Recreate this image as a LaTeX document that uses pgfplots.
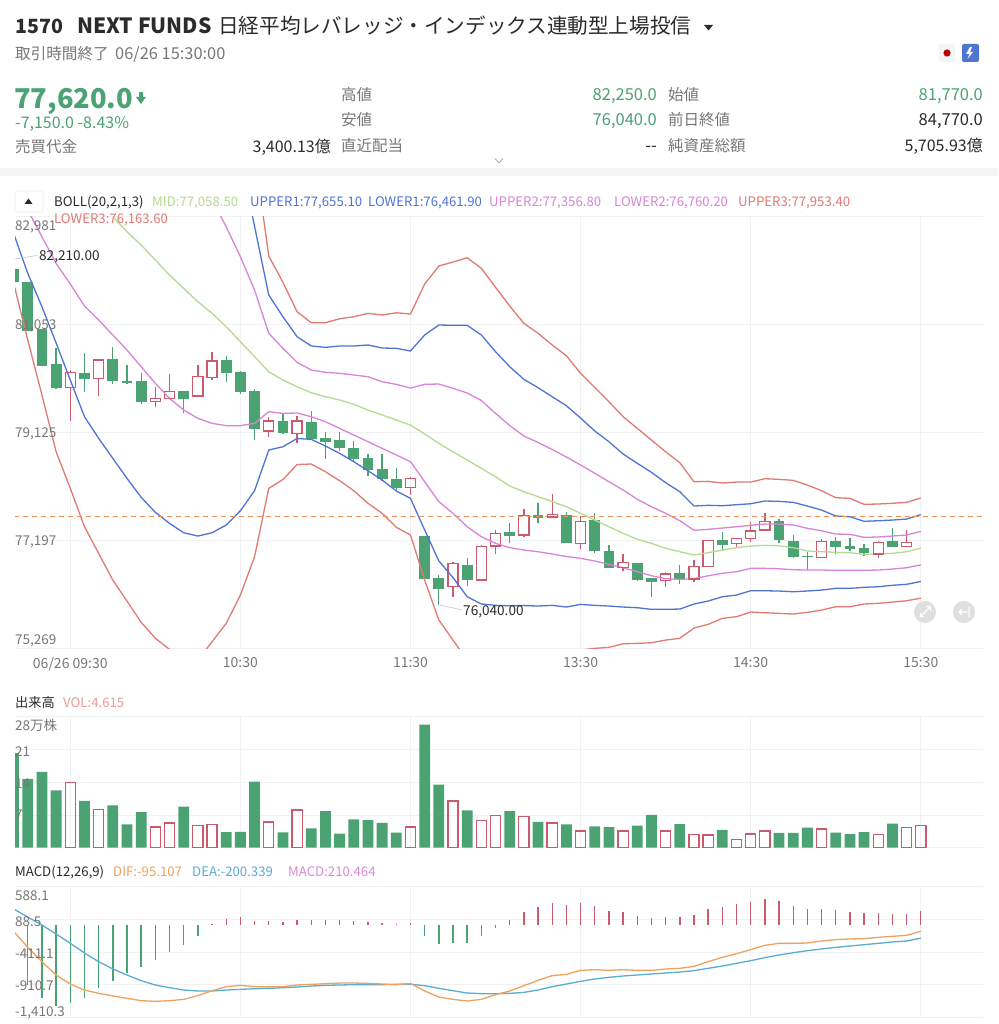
\documentclass[border=0pt]{standalone}
\usepackage{fontspec}
\setmainfont{Noto Sans CJK JP}
\usepackage{pgfplots}
\usepackage{pgfplotstable}
\pgfplotsset{compat=1.18}
\definecolor{cg}{HTML}{4BA373}
\definecolor{cr}{HTML}{CB5A6C}
\definecolor{gridc}{HTML}{F1F1F3}
\definecolor{lab}{HTML}{777777}
\definecolor{dark}{HTML}{2B2B2B}
\definecolor{mid}{HTML}{B4DB8E}
\definecolor{bl}{HTML}{4F74D3}
\definecolor{pu}{HTML}{D884D8}
\definecolor{re}{HTML}{E07A72}
\definecolor{up}{HTML}{4BA373}
\definecolor{dif}{HTML}{EDA35F}
\definecolor{dea}{HTML}{58ADD3}
\definecolor{macdc}{HTML}{D98BD9}
\pgfplotstableread{
i h o c l
0 82040 82040 81810 81810
1 81810 81810 80940 80940
2 80970 80970 80320 80320
3 80628 80347 79924 79901
5 80549 80186 80074 79842
7 80656 80431 80043 79985
8 80329 80049 80002 79995
9 80181 80043 79668 79633
12 79865 79859 79716 79466
15 80495 80413 80192 80031
16 80217 80210 79847 79806
17 79895 79859 79186 78989
19 79466 79329 79109 79097
21 79513 79311 79013 78989
22 79138 79031 78954 78645
23 79138 78989 78841 78798
24 78977 78841 78645 78591
25 78739 78668 78453 78352
26 78734 78466 78287 78262
27 78484 78287 78127 78084
29 77274 77274 76506 76506
30 76578 76524 76333 76040
32 76876 76756 76488 76381
35 77501 77351 77280 77144
37 77859 77650 77601 77501
39 77698 77650 77144 77144
41 77680 77560 77012 76976
42 77114 77006 76708 76697
44 76787 76787 76488 76476
45 76524 76519 76453 76179
47 76756 76619 76501 76411
50 77340 77208 77108 77012
54 77573 77548 77203 77144
55 77287 77180 76894 76887
56 76994 76912 76894 76667
58 77251 77190 77078 76947
59 77233 77101 77042 77001
60 77131 77065 76965 76912
62 77412 77185 77083 77078
}\greencandles
\pgfplotstableread{
i h c o l
4 80240 80192 79924 79334
6 80419 80419 80092 79781
10 79942 79734 79674 79584
11 80169 79852 79734 79727
13 80324 80120 79775 79763
14 80567 80401 80102 80056
18 79406 79329 79150 79048
20 79418 79329 79102 78930
28 78334 78298 78137 78007
31 76804 76787 76369 76190
33 77114 77083 76488 76470
34 77382 77323 77096 76953
36 77751 77637 77292 77251
38 78019 77662 77614 77614
40 77632 77530 77144 77042
43 76947 76797 76708 76655
46 76626 76596 76476 76358
48 76846 76726 76506 76453
49 77203 77190 76733 76726
51 77239 77226 77144 77055
52 77519 77364 77226 77173
53 77691 77530 77382 77369
57 77215 77173 76894 76894
61 77190 77162 76953 76876
63 77382 77162 77083 77083
}\redcandles
\pgfplotstableread{
i u3 u1 u2 m l2 l1 l3
0 nan nan nan nan 83545 82682 81794
1 nan nan nan nan 83098 81967 80776
2 nan nan nan nan 82621 81371 79793
3 nan nan nan nan 82146 80722 78780
4 nan nan nan nan 81776 80061 78126
5 nan nan nan nan 81383 79406 77441
6 nan nan nan nan 81133 79020 76965
7 nan nan nan 82979 80865 78662 76488
8 nan nan nan 82711 80597 78305 76113
9 nan nan nan 82473 80299 77966 75733
10 nan nan nan 82205 80002 77698 75447
11 nan nan nan 81937 79734 77501 75250
12 nan nan nan 81700 79525 77333 75113
13 nan nan nan 81460 79377 77274 75059
14 nan nan 83277 81253 79288 77333 75386
15 nan nan 82800 81014 79245 77471 75715
16 nan 84045 82264 80746 79245 77726 76220
17 84117 82807 81669 80478 79288 78084 76905
18 82277 81580 80896 80210 79495 78811 78126
19 81807 81192 80628 80061 79466 78870 78284
20 81281 80835 80378 79942 79472 79016 78552
21 81085 80669 80240 79834 79406 79002 78561
22 81085 80645 80199 79763 79316 78882 78423
23 81156 80669 80181 79704 79198 78752 78262
24 81192 80669 80151 79627 79079 78602 78084
25 81253 80687 80120 79525 78959 78441 77859
26 81223 80633 80031 79436 78841 78275 77680
27 81263 80628 79984 79347 78722 78078 77430
28 81240 80580 79918 79257 78602 77948 77292
29 81776 80865 79984 79097 78244 77382 76488
30 82098 81044 79990 78930 77888 76828 75774
31 82169 81039 79913 78780 77680 76533 75416
32 82246 81039 79829 78632 77441 76190 75059
33 82057 80865 79695 78484 77262 76060 74916
34 81717 80567 79466 78334 77144 76036 74791
35 81383 80299 79248 78168 77066 76029 74738
36 81074 80074 79061 78066 77024 76032 74738
37 80896 79924 78945 77977 76994 76024 74791
38 80687 79763 78820 77888 76953 76036 74916
39 80495 79602 78686 77798 76908 76006 75059
40 80181 79382 78543 77680 76876 76054 75238
41 79927 79150 78395 77560 76828 76036 75268
42 79674 78959 78244 77441 76769 76024 75286
43 79406 78739 78096 77323 76708 76006 75350
44 79198 78573 77930 77216 76637 75994 75357
45 78989 78412 77798 77144 76565 75965 75368
46 78780 78227 77680 77055 76512 75965 75416
47 78584 78066 77548 76994 76501 75970 75447
48 78244 77810 77376 76935 76512 76060 75631
49 78251 77823 77394 76976 76565 76113 75697
50 78221 77816 77417 77024 76608 76190 75804
51 78239 77834 77441 77066 76637 76220 75833
52 78239 77851 77466 77096 76697 76297 75917
53 78298 77900 77489 77108 76697 76297 75904
54 78287 77894 77489 77101 76690 76292 75893
55 78269 77876 77471 77066 76672 76279 75881
56 78185 77810 77412 77007 76667 76292 75911
57 78084 77739 77369 76994 76667 76309 75952
58 77959 77632 77310 76983 76662 76340 76011
59 77948 77619 77305 76976 76662 76340 76011
60 77841 77537 77251 76947 76662 76358 76060
61 77846 77548 77257 76953 76667 76369 76072
62 77859 77560 77275 76965 76685 76394 76095
63 77877 77578 77292 76994 76708 76412 76118
64 77953 77655 77357 77058 76760 76462 76164
}\boll
\pgfplotstableread{
i v
0 20.2
1 14.7
2 16.2
3 12.25
5 10
7 9.05
8 5.0
9 7.6
12 8.8
15 3.35
16 3.4
17 14.1
19 3.3
21 4.15
22 7.8
23 3.0
24 6.05
25 5.9
26 5.3
27 3.2
29 26.3
30 13.5
32 8
35 7.8
37 5.5
39 5.0
41 4.55
42 4.4
44 4.7
45 7.0
47 5.05
50 3.8
54 3.15
55 3.15
56 4.3
58 3.2
59 2.9
60 3.35
62 5.15
}\greenvol
\pgfplotstableread{
i v
4 14.0
6 8.1
10 4.4
11 5.3
13 4.7
14 5.0
18 5.5
20 8.05
28 4.4
31 10
33 5.8
34 6.85
36 6.7
38 5.3
40 3.6
43 3.6
46 3.6
48 2.85
49 2.7
51 1.7
52 2.9
53 3.6
57 4.0
61 2.85
63 4.3
64 4.7
}\redvol
\pgfplotstableread{
i v
1 -916
2 -1110
3 -1232
4 -1187
5 -1110
6 -962
7 -850
8 -738
9 -646
10 -534
11 -406
12 -309
13 -161
29 -167
30 -289
31 -279
32 -279
33 -167
34 -39
}\greenmacd
\pgfplotstableread{
i v
14 17
15 94
16 124
17 68
18 63
19 48
20 78
21 78
22 78
23 78
24 68
25 48
26 32
27 17
28 38
35 73
36 196
37 277
38 333
39 308
40 343
41 298
42 221
43 196
44 139
45 109
46 119
47 119
48 155
49 241
50 282
51 323
52 359
53 394
54 364
55 292
56 247
57 247
58 226
59 206
60 180
61 180
62 165
63 165
64 210
}\redmacd
\pgfplotstableread{
i dif dea
0 -95 247
1 -340 124
2 -559 2
3 -763 -136
4 -901 -278
5 -993 -427
6 -1044 -559
7 -1084 -671
8 -1120 -763
9 -1156 -850
10 -1166 -916
11 -1156 -957
12 -1136 -993
13 -1079 -1008
14 -1003 -1008
15 -942 -993
16 -921 -983
17 -942 -973
18 -942 -967
19 -942 -957
20 -916 -947
21 -906 -932
22 -896 -921
23 -886 -916
24 -886 -911
25 -891 -911
26 -901 -911
27 -911 -906
28 -891 -906
29 -1008 -926
30 -1100 -967
31 -1136 -1003
32 -1161 -1039
33 -1136 -1049
34 -1064 -1049
35 -1008 -1044
36 -926 -1029
37 -845 -993
38 -773 -942
39 -753 -901
40 -692 -860
41 -682 -824
42 -692 -799
43 -682 -778
44 -692 -763
45 -692 -748
46 -671 -733
47 -661 -717
48 -631 -697
49 -559 -661
50 -493 -626
51 -437 -585
52 -375 -544
53 -309 -498
54 -279 -457
55 -279 -422
56 -273 -391
57 -243 -365
58 -222 -340
59 -212 -320
60 -207 -299
61 -187 -279
62 -171 -258
63 -156 -243
64 -95 -200
}\macdt
\pgfplotstableread{
i v
0 77620
68.39 77620
}\lastline
\pgfplotsset{
 panel/.style={
  scale only axis, width=968pt, xmin=0.0988, xmax=68.39, scaled y ticks=false,
  axis line style={draw=none}, tick style={draw=none}, major tick length=0pt,
  xtick={4,16,28,40,52,64}, xmajorgrids, ymajorgrids,
  grid style={gridc,line width=0.8pt},
  yticklabels={},
  xticklabel style={inner sep=0pt,text=lab,font=\fontsize{14}{15}\selectfont},
}}
\newcommand\TL[5]{\node[anchor=base west,inner sep=0pt,text=#4,font=\fontsize{#3}{#3}\selectfont] at (#1,#2) {#5};}
\newcommand\TR[5]{\node[anchor=base east,inner sep=0pt,text=#4,font=\fontsize{#3}{#3}\selectfont] at (#1,#2) {#5};}
\begin{document}
\begin{tikzpicture}
\path[use as bounding box] (0pt,0pt) rectangle (998pt,1024pt);
\fill[white] (0pt,0pt) rectangle (998pt,1024pt);
\begin{axis}[panel, name=main, at={(15pt,375.7pt)}, anchor=south west, height=431.7pt,
  ymin=75269, ymax=82981, ytick={75269,77197,79125,81053,82981},
  xticklabels={06/26 09:30,10:30,11:30,13:30,14:30,15:30},
  xticklabel style={yshift=-8.5pt},
]
% candles: green
\addplot[draw=none,mark=none,forget plot,error bars/.cd,y dir=plus,y explicit,error mark=none,error bar style={draw=cg,line width=1.3pt}]
  table[x=i,y=l,y error plus expr=\thisrow{h}-\thisrow{l}] {\greencandles};
\addplot[draw=none,mark=none,forget plot,error bars/.cd,y dir=plus,y explicit,error mark=none,error bar style={draw=cg,line width=10.8pt}]
  table[x=i,y=c,y error plus expr=\thisrow{o}-\thisrow{c}] {\greencandles};
% candles: red hollow, wicks
\addplot[draw=none,mark=none,forget plot,error bars/.cd,y dir=plus,y explicit,error mark=none,error bar style={draw=cr,line width=1.3pt}]
  table[x=i,y=c,y error plus expr=\thisrow{h}-\thisrow{c}] {\redcandles};
\addplot[draw=none,mark=none,forget plot,error bars/.cd,y dir=plus,y explicit,error mark=none,error bar style={draw=cr,line width=1.3pt}]
  table[x=i,y=l,y error plus expr=\thisrow{o}-\thisrow{l}] {\redcandles};
% red bodies: sides and caps
\addplot[draw=none,mark=none,forget plot,error bars/.cd,y dir=plus,y explicit,error mark=none,error bar style={draw=cr,line width=1.3pt}]
  table[x expr=\thisrow{i}-0.356,y=o,y error plus expr=\thisrow{c}-\thisrow{o}] {\redcandles};
\addplot[draw=none,mark=none,forget plot,error bars/.cd,y dir=plus,y explicit,error mark=none,error bar style={draw=cr,line width=1.3pt}]
  table[x expr=\thisrow{i}+0.356,y=o,y error plus expr=\thisrow{c}-\thisrow{o}] {\redcandles};
\addplot[only marks,mark=-,mark size=5.7pt,mark options={draw=cr,line width=1.3pt},forget plot] table[x=i,y=o] {\redcandles};
\addplot[only marks,mark=-,mark size=5.7pt,mark options={draw=cr,line width=1.3pt},forget plot] table[x=i,y=c] {\redcandles};
% Bollinger
\addplot[re,line width=1.3pt,mark=none] table[x=i,y=u3] {\boll};
\addplot[bl,line width=1.3pt,mark=none] table[x=i,y=u1] {\boll};
\addplot[pu,line width=1.3pt,mark=none] table[x=i,y=u2] {\boll};
\addplot[mid,line width=1.3pt,mark=none] table[x=i,y=m] {\boll};
\addplot[pu,line width=1.3pt,mark=none] table[x=i,y=l2] {\boll};
\addplot[bl,line width=1.3pt,mark=none] table[x=i,y=l1] {\boll};
\addplot[re,line width=1.3pt,mark=none] table[x=i,y=l3] {\boll};
\addplot[draw=dif!90!red,line width=1.3pt,dash pattern=on 5pt off 4pt,mark=none] table[x=i,y=v] {\lastline};
\end{axis}
\begin{axis}[panel, at={(15pt,176.3pt)}, anchor=south west, height=131pt,
  ymin=0, ymax=28, ytick={0,7,14,21,28},
  xticklabels={},
]
\addplot[ybar,bar width=10.8pt,bar shift=0pt,fill=cg,draw=none] table[x=i,y=v] {\greenvol};
\addplot[ybar,bar width=10.2pt,bar shift=0pt,fill=none,draw=cr,line width=1.3pt] table[x=i,y=v] {\redvol};
\end{axis}
\begin{axis}[panel, at={(15pt,6.7pt)}, anchor=south west, height=130.6pt,
  ymin=-1410.3, ymax=588.1, ytick={-1410.3,-910.7,-411.1,88.5,588.1},
  xticklabels={},
]
\addplot[ycomb,cg,line width=1.4pt,mark=none] table[x=i,y=v] {\greenmacd};
\addplot[ycomb,cr,line width=1.4pt,mark=none] table[x=i,y=v] {\redmacd};
\addplot[dea,line width=1.3pt,mark=none] table[x=i,y=dea] {\macdt};
\addplot[dif,line width=1.3pt,mark=none] table[x=i,y=dif] {\macdt};
\end{axis}
\begin{scope}[x=1pt,y=-1pt,yshift=1024pt]
\TL{15}{34}{19.6}{dark}{\textbf{1570}}
\TL{77}{34}{21}{dark}{\textbf{NEXT FUNDS}}
\TL{218}{34}{20.6}{dark}{日経平均レバレッジ・インデックス連動型上場投信}
\fill[dark] (704,25) -- (713,25) -- (708.5,30.5) -- cycle;
\TL{15}{60}{15.6}{lab}{取引時間終了}
\TL{115}{60}{16.4}{lab}{06/26 15:30:00}
\fill[gray!8,rounded corners=2pt] (939,44) rectangle (955,62);
\fill[red!75!black] (947,53) circle (3.6);
\fill[bl,rounded corners=2pt] (962,44) rectangle (979,62);
\fill[white] (970,47) -- (966,54) -- (969.5,54) -- (967.5,59) -- (973,52) -- (970,52) -- (972,47) -- cycle;
\TL{14}{108.5}{27.3}{up}{\textbf{77,620.0}}
\fill[up] (139,92) rectangle (143,98); \fill[up] (136,97) -- (146,97) -- (141,104) -- cycle;
\TL{15}{129}{16}{up}{-7,150.0 -8.43\%}
\TL{15}{152.5}{15.5}{lab}{売買代金}
\TR{331}{152.5}{16}{dark}{3,400.13億}
\TL{341}{101}{15.5}{lab}{高値}
\TR{657}{101}{16.5}{up}{82,250.0}
\TL{341}{126}{15.5}{lab}{安値}
\TR{657}{126}{16.5}{up}{76,040.0}
\TL{341}{152}{15.5}{lab}{直近配当}
\TR{657}{152}{16.5}{dark}{{-}{-}}
\TL{668}{101}{15.5}{lab}{始値}
\TR{983}{101}{16.5}{up}{81,770.0}
\TL{668}{126}{15.5}{lab}{前日終値}
\TR{983}{126}{16.5}{dark}{84,770.0}
\TL{668}{152}{15.5}{lab}{純資産総額}
\TR{983}{152}{16}{dark}{5,705.93億}
\draw[lab!70,line width=0.7pt] (495,158.5) -- (499,163) -- (503,158.5);
\fill[gray!8] (0,168) rectangle (998,176);
% legend row
\draw[gray!12,line width=0.7pt,rounded corners=1.5pt] (15,191) rectangle (43,212);
\fill[dark] (24.5,204) -- (32.5,204) -- (28.5,198.5) -- cycle;
\TL{54}{207}{13.2}{dark}{BOLL(20,2,1,3)}
\TL{152}{207}{13.2}{mid}{MID:77,058.50}
\TL{250}{207}{13.2}{bl}{UPPER1:77,655.10}
\TL{368}{207}{13.2}{bl}{LOWER1:76,461.90}
\TL{489}{207}{13.2}{pu}{UPPER2:77,356.80}
\TL{614}{207}{13.2}{pu}{LOWER2:76,760.20}
\TL{738}{207}{13.2}{re}{UPPER3:77,953.40}
\TL{54}{224}{13.2}{re}{LOWER3:76,163.60}
% y labels
\TL{15}{230.6}{13.5}{lab}{82,981}
\TL{15}{329.5}{13.5}{lab}{81,053}
\TL{15}{437.4}{13.5}{lab}{79,125}
\TL{15}{545.3}{13.5}{lab}{77,197}
\TL{15}{644.3}{13.5}{lab}{75,269}
\TL{15}{730.7}{13.5}{lab}{28万株}
\TL{15}{756.4}{13.5}{lab}{21}
\TL{15}{789}{13.5}{lab}{14}
\TL{15}{820}{13.5}{lab}{7}
\TL{15}{900.7}{13.5}{lab}{588.1}
\TL{15}{926.4}{13.5}{lab}{88.5}
\TL{15}{959}{13.5}{lab}{-411.1}
\TL{15}{991}{13.5}{lab}{-910.7}
\TL{15}{1016.3}{13.5}{lab}{-1,410.3}
% annotations
\draw[gray!45,line width=0.6pt] (15,259) -- (37,255.5);
\TL{39}{261}{13.6}{dark}{82,210.00}
\draw[gray!45,line width=0.6pt] (440,605) -- (462,610);
\TL{463}{615.5}{13.6}{dark}{76,040.00}
% corner buttons
\fill[gray!25] (925,612) circle (11);
\draw[white,line width=1.2pt] (920,617) -- (930,607);
\draw[white,line width=1pt] (926,607) -- (930,607) -- (930,611) (920,613) -- (920,617) -- (924,617);
\fill[gray!25] (964,612) circle (11);
\draw[white,line width=1.2pt] (959,612) -- (967,612) (962,609) -- (959,612) -- (962,615) (969,607) -- (969,617);
% panel captions
\TL{15}{708}{13.2}{dark}{出来高}
\TL{63}{708}{13.2}{re!75}{VOL:4.615}
\TL{15}{877}{13.2}{dark}{MACD(12,26,9)}
\TL{113}{877}{13.2}{dif}{DIF:-95.107}
\TL{192}{877}{13.2}{dea}{DEA:-200.339}
\TL{288}{877}{13.2}{macdc}{MACD:210.464}
\end{scope}
\end{tikzpicture}
\end{document}
